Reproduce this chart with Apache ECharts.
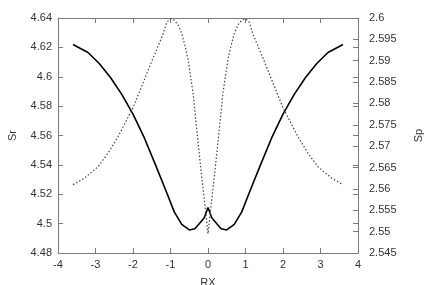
<!DOCTYPE html>
<html>
<head>
<meta charset="utf-8">
<script src="https://cdn.jsdelivr.net/npm/echarts@6/dist/echarts.min.js"></script>
<style>
html,body{margin:0;padding:0;background:#fff;}
#chart{width:425px;height:285px;}
</style>
</head>
<body>
<div id="chart"></div>
<script>
// Solid curve: Sr (left axis)
const rxSr = [-3.6, -3.2, -2.9, -2.6, -2.3, -2.0, -1.7, -1.4, -1.1, -0.9, -0.7, -0.5, -0.35, -0.2, -0.1, 0,
              0.1, 0.2, 0.35, 0.5, 0.7, 0.9, 1.1, 1.4, 1.7, 2.0, 2.3, 2.6, 2.9, 3.2, 3.6];
const sr = [4.622, 4.6165, 4.609, 4.5995, 4.588, 4.5745, 4.5585, 4.540, 4.521, 4.508, 4.4995, 4.4957, 4.4965, 4.501, 4.504, 4.511,
            4.504, 4.501, 4.4965, 4.4957, 4.4995, 4.508, 4.521, 4.540, 4.5585, 4.5745, 4.588, 4.5995, 4.609, 4.6165, 4.622];
// Dotted curve: Sp (right axis)
const rxSp = [-3.6, -3.3, -2.93, -2.67, -2.4, -2.0, -1.7, -1.47, -1.2, -1.1, -1.0, -0.9, -0.8, -0.7, -0.6, -0.53, -0.4, -0.26, -0.17, -0.08, 0,
              0.08, 0.17, 0.26, 0.4, 0.53, 0.6, 0.7, 0.8, 0.9, 1.0, 1.1, 1.2, 1.47, 1.7, 2.0, 2.4, 2.67, 2.93, 3.3, 3.6];
const sp = [2.561, 2.5625, 2.5652, 2.5683, 2.5722, 2.579, 2.5855, 2.5905, 2.5962, 2.599, 2.5998, 2.5995, 2.5984, 2.5964, 2.593, 2.5902, 2.5825, 2.5705, 2.563, 2.556, 2.5495,
            2.556, 2.563, 2.5705, 2.5825, 2.5902, 2.593, 2.5964, 2.5984, 2.5995, 2.5998, 2.599, 2.5962, 2.5905, 2.5855, 2.579, 2.5722, 2.5683, 2.5652, 2.5625, 2.561];
// Axis settings
const xTicks = {min: -4, max: 4, interval: 1};
const yLeft = {min: 4.48, max: 4.64, interval: 0.02};
const yRight = {min: 2.545, max: 2.6, interval: 0.005};

const FONT = "'Liberation Sans', Arial, sans-serif";
const AXC = '#7a7a7a';
const TXC = '#333';

const chart = echarts.init(document.getElementById('chart'), null, {renderer: 'canvas'});
chart.setOption({
  animation: false,
  backgroundColor: '#fff',
  grid: {left: 58, right: 67, top: 18, bottom: 32, containLabel: false, outerBoundsMode: 'none'},
  xAxis: [{
    type: 'value', position: 'bottom', min: xTicks.min, max: xTicks.max, interval: xTicks.interval,
    name: 'RX', nameLocation: 'middle', nameGap: 24,
    nameTextStyle: {color: TXC, fontFamily: FONT, fontSize: 11},
    axisLine: {show: true, onZero: false, lineStyle: {color: AXC, width: 1}},
    axisTick: {show: true, inside: true, length: 5, lineStyle: {color: AXC}},
    axisLabel: {color: TXC, fontFamily: FONT, fontSize: 11, margin: 6},
    splitLine: {show: false}
  }, {
    type: 'value', position: 'top', min: xTicks.min, max: xTicks.max, interval: xTicks.interval,
    axisLine: {show: true, onZero: false, lineStyle: {color: AXC, width: 1}},
    axisTick: {show: true, inside: true, length: 5, lineStyle: {color: AXC}},
    axisLabel: {show: false},
    splitLine: {show: false}
  }],
  yAxis: [{
    type: 'value', position: 'left', min: yLeft.min, max: yLeft.max, interval: yLeft.interval,
    name: 'Sr', nameLocation: 'middle', nameGap: 40, nameRotate: 90,
    nameTextStyle: {color: TXC, fontFamily: FONT, fontSize: 11},
    axisLine: {show: true, onZero: false, lineStyle: {color: AXC, width: 1}},
    axisTick: {show: true, inside: true, length: 5, lineStyle: {color: AXC}},
    axisLabel: {color: TXC, fontFamily: FONT, fontSize: 11, margin: 6},
    splitLine: {show: false}
  }, {
    type: 'value', position: 'right', min: yRight.min, max: yRight.max, interval: yRight.interval,
    name: 'Sp', nameLocation: 'middle', nameGap: 55, nameRotate: 90,
    nameTextStyle: {color: TXC, fontFamily: FONT, fontSize: 11},
    axisLine: {show: true, onZero: false, lineStyle: {color: AXC, width: 1}},
    axisTick: {show: true, inside: true, length: 5, lineStyle: {color: AXC}},
    axisLabel: {color: TXC, fontFamily: FONT, fontSize: 11, margin: 11},
    splitLine: {show: false}
  }, {
    type: 'value', position: 'right', offset: 0, min: yLeft.min, max: yLeft.max, interval: yLeft.interval,
    axisLine: {show: false, onZero: false},
    axisTick: {show: true, inside: true, length: 5, lineStyle: {color: AXC}},
    axisLabel: {show: false},
    splitLine: {show: false}
  }],
  series: [{
    type: 'line', xAxisIndex: 0, yAxisIndex: 0, name: 'Sr',
    data: rxSr.map((x, i) => [x, sr[i]]),
    showSymbol: false, symbol: 'none',
    lineStyle: {color: '#000', width: 1.6}
  }, {
    type: 'line', xAxisIndex: 0, yAxisIndex: 1, name: 'Sp',
    data: rxSp.map((x, i) => [x, sp[i]]),
    showSymbol: false, symbol: 'none',
    lineStyle: {color: '#444', width: 1.2, type: [1.5, 2]}
  }]
});
</script>
</body>
</html>
